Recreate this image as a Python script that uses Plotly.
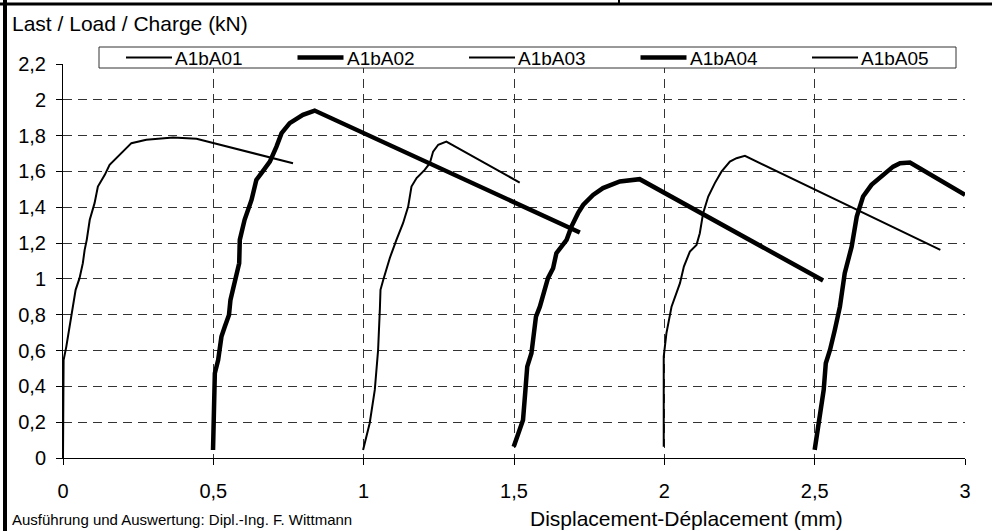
import plotly.graph_objects as go

# ---- measured load/displacement curves (mm, kN) ----
a1ba01_x = [0.0, 0.0, 0.002, 0.011, 0.022, 0.031, 0.042, 0.055, 0.066, 0.072, 0.079, 0.089,
            0.105, 0.116, 0.139, 0.155, 0.189, 0.2275, 0.277, 0.366, 0.444, 0.765]
a1ba01_y = [0.0, 0.40, 0.547, 0.622, 0.733, 0.845, 0.939, 1.004, 1.088, 1.162, 1.218, 1.330,
            1.423, 1.516, 1.581, 1.637, 1.693, 1.758, 1.777, 1.789, 1.782, 1.646]

a1ba02_x = [0.499, 0.501, 0.505, 0.516, 0.527, 0.538, 0.552, 0.557, 0.571, 0.586, 0.588, 0.604,
            0.627, 0.643, 0.660, 0.688, 0.710, 0.727, 0.754, 0.798, 0.837, 1.719]
a1ba02_y = [0.045, 0.268, 0.473, 0.547, 0.678, 0.733, 0.799, 0.883, 0.976, 1.088, 1.218, 1.330,
            1.441, 1.553, 1.591, 1.655, 1.739, 1.814, 1.870, 1.916, 1.940, 1.259]

a1ba03_x = [0.998, 1.020, 1.037, 1.048, 1.054, 1.056, 1.065, 1.087, 1.109, 1.131, 1.148, 1.159,
            1.176, 1.203, 1.220, 1.231, 1.248, 1.275, 1.519]
a1ba03_y = [0.045, 0.194, 0.380, 0.603, 0.836, 0.939, 0.994, 1.117, 1.218, 1.311, 1.404, 1.516,
            1.563, 1.609, 1.646, 1.711, 1.749, 1.767, 1.538]

a1ba04_x = [1.499, 1.514, 1.530, 1.538, 1.544, 1.558, 1.566, 1.573, 1.586, 1.597, 1.613, 1.630,
            1.641, 1.675, 1.691, 1.713, 1.730, 1.763, 1.796, 1.852, 1.874, 1.918, 2.528]
a1ba04_y = [0.063, 0.138, 0.212, 0.380, 0.510, 0.585, 0.697, 0.789, 0.845, 0.920, 1.004, 1.060,
            1.144, 1.218, 1.292, 1.367, 1.413, 1.469, 1.507, 1.544, 1.549, 1.557, 0.991]

a1ba05_x = [1.998, 1.998, 2.007, 2.024, 2.052, 2.065, 2.085, 2.107, 2.118, 2.129, 2.146, 2.168,
            2.190, 2.218, 2.240, 2.268, 2.918]
a1ba05_y = [0.063, 0.566, 0.697, 0.845, 0.976, 1.069, 1.153, 1.190, 1.255, 1.367, 1.460, 1.535,
            1.599, 1.655, 1.674, 1.687, 1.162]

a1ba06_x = [2.500, 2.506, 2.517, 2.530, 2.537, 2.551, 2.567, 2.584, 2.600, 2.623, 2.640, 2.661,
            2.689, 2.722, 2.761, 2.784, 2.817, 3.000]
a1ba06_y = [0.045, 0.119, 0.212, 0.380, 0.529, 0.603, 0.715, 0.845, 1.032, 1.180, 1.348, 1.460,
            1.525, 1.572, 1.627, 1.646, 1.650, 1.469]

series = [
    ("A1bA01", a1ba01_x, a1ba01_y, 2.0, True),
    ("A1bA02", a1ba02_x, a1ba02_y, 4.5, True),
    ("A1bA03", a1ba03_x, a1ba03_y, 2.0, True),
    ("A1bA04", a1ba04_x, a1ba04_y, 4.5, True),
    ("A1bA05", a1ba05_x, a1ba05_y, 2.0, True),
    ("A1bA06", a1ba06_x, a1ba06_y, 4.5, False),
]

x_ticks = [0, 0.5, 1, 1.5, 2, 2.5, 3]
y_ticks = [0, 0.2, 0.4, 0.6, 0.8, 1.0, 1.2, 1.4, 1.6, 1.8, 2.0, 2.2]

y_title = "Last / Load / Charge (kN)"
x_title = "Displacement-Déplacement (mm)"
credit = "Ausführung und Auswertung: Dipl.-Ing. F. Wittmann"

# ---- page geometry ----
W, H = 992, 531
ML, MR, MT, MB = 63, 27, 64, 73
PW, PH = W - ML - MR, H - MT - MB
FONT = "Liberation Sans, Arial, sans-serif"


def px(xp):
    """page pixel column -> paper x"""
    return (xp - ML) / PW


def py(yp):
    """page pixel row -> paper y"""
    return (H - MB - yp) / PH


fig = go.Figure()
for name, xs, ys, width, _ in series:
    fig.add_trace(go.Scatter(
        x=xs, y=ys, name=name, mode="lines",
        line=dict(color="black", width=width),
        showlegend=False,
    ))

grid = dict(showgrid=True, gridcolor="#333333", gridwidth=1, griddash="9px,6px")

fig.update_layout(
    width=W, height=H, autosize=False,
    margin=dict(l=ML, r=MR, t=MT, b=MB, pad=0),
    paper_bgcolor="white", plot_bgcolor="white",
    separators=",.",
    font=dict(family=FONT, size=20, color="black"),
    xaxis=dict(range=[0, 3], tickvals=x_ticks, ticks="outside", ticklen=6,
               tickcolor="black", showline=True, linecolor="black", linewidth=1,
               zeroline=False, ticklabelstandoff=9, **grid),
    yaxis=dict(range=[0, 2.2], tickvals=y_ticks, ticks="outside", ticklen=6,
               tickcolor="black", showline=True, linecolor="black", linewidth=1,
               zeroline=False, ticklabelstandoff=6, **grid),
    showlegend=False,
)

# compact one-row key inside a framed box above the plot
KEY_LEFT, KEY_RIGHT, KEY_TOP, KEY_BOTTOM = 99, 956, 47, 68
KEY_FIRST, KEY_PITCH, KEY_SAMPLE = 126, 171.5, 46
key_mid = (KEY_TOP + KEY_BOTTOM) / 2
fig.add_shape(type="rect", xref="paper", yref="paper",
              x0=px(KEY_LEFT), x1=px(KEY_RIGHT), y0=py(KEY_BOTTOM), y1=py(KEY_TOP),
              fillcolor="white", line=dict(color="#333333", width=1), layer="above")
keyed = [s for s in series if s[4]]
for i, (name, _, _, width, _) in enumerate(keyed):
    x0 = KEY_FIRST + i * KEY_PITCH
    fig.add_shape(type="line", xref="paper", yref="paper",
                  x0=px(x0), x1=px(x0 + KEY_SAMPLE), y0=py(key_mid), y1=py(key_mid),
                  line=dict(color="black", width=width), layer="above")
    fig.add_annotation(text=name, xref="paper", yref="paper",
                       x=px(x0 + KEY_SAMPLE + 1), y=py(key_mid + 1),
                       xanchor="left", yanchor="middle", showarrow=False,
                       font=dict(family=FONT, size=19, color="black"))

fig.add_annotation(text=y_title, xref="paper", yref="paper", x=px(10), y=py(23),
                   xanchor="left", yanchor="middle", showarrow=False,
                   font=dict(family=FONT, size=21, color="black"))
fig.add_annotation(text=x_title, xref="paper", yref="paper", x=px(686), y=py(518),
                   xanchor="center", yanchor="middle", showarrow=False,
                   font=dict(family=FONT, size=21, color="black"))
fig.add_annotation(text=credit, xref="paper", yref="paper", x=px(10), y=py(519),
                   xanchor="left", yanchor="middle", showarrow=False,
                   font=dict(family=FONT, size=15, color="black"))

# page frame: heavy rules along the left and top edge
frame = dict(color="black")
fig.add_shape(type="line", xref="paper", yref="paper",
              x0=px(5), x1=px(5), y0=py(H + 5), y1=py(-5), line=dict(width=4, **frame))
fig.add_shape(type="line", xref="paper", yref="paper",
              x0=px(-5), x1=px(W + 5), y0=py(4), y1=py(4), line=dict(width=3, **frame))
fig.add_shape(type="line", xref="paper", yref="paper",
              x0=px(619), x1=px(619), y0=py(4), y1=py(-5), line=dict(width=2, **frame))

fig.write_html("out.html")
